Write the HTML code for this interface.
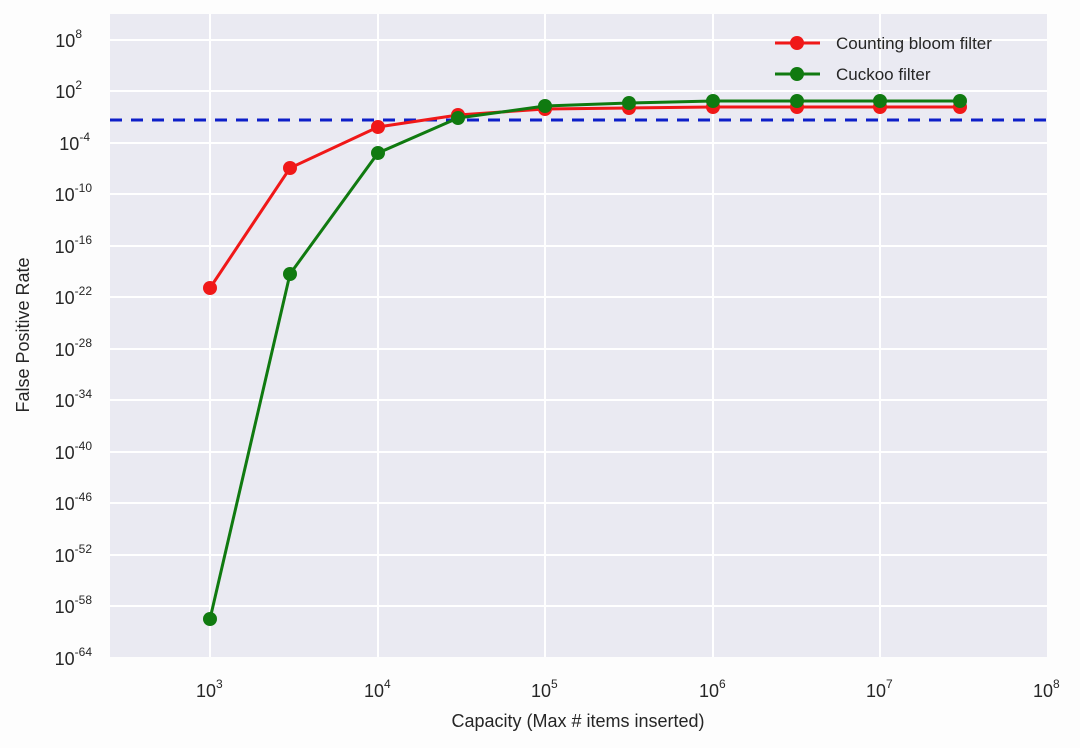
<!DOCTYPE html>
<html><head><style>body{margin:0;background:#fff}</style></head><body>
<svg width="1080" height="748" xmlns="http://www.w3.org/2000/svg" font-family="Liberation Sans, sans-serif">
<rect width="1080" height="748" fill="#fdfdfd"/>
<rect x="110" y="14" width="937" height="643" fill="#eaeaf2"/>
<g stroke="#fff" stroke-width="2">
<line x1="210" y1="14" x2="210" y2="657"/><line x1="378" y1="14" x2="378" y2="657"/><line x1="545" y1="14" x2="545" y2="657"/><line x1="713" y1="14" x2="713" y2="657"/><line x1="880" y1="14" x2="880" y2="657"/>
<line x1="110" y1="40" x2="1047" y2="40"/><line x1="110" y1="91" x2="1047" y2="91"/><line x1="110" y1="143" x2="1047" y2="143"/><line x1="110" y1="194" x2="1047" y2="194"/><line x1="110" y1="246" x2="1047" y2="246"/><line x1="110" y1="297" x2="1047" y2="297"/><line x1="110" y1="349" x2="1047" y2="349"/><line x1="110" y1="400" x2="1047" y2="400"/><line x1="110" y1="452" x2="1047" y2="452"/><line x1="110" y1="503" x2="1047" y2="503"/><line x1="110" y1="555" x2="1047" y2="555"/><line x1="110" y1="606" x2="1047" y2="606"/>
</g>
<g font-size="18" fill="#262626" text-anchor="end">
<text x="82" y="47">10<tspan dy="-9" font-size="12">8</tspan></text>
<text x="82" y="98">10<tspan dy="-9" font-size="12">2</tspan></text>
<text x="90" y="150">10<tspan dy="-9" font-size="12">-4</tspan></text>
<text x="92" y="201">10<tspan dy="-9" font-size="12">-10</tspan></text>
<text x="92" y="253">10<tspan dy="-9" font-size="12">-16</tspan></text>
<text x="92" y="304">10<tspan dy="-9" font-size="12">-22</tspan></text>
<text x="92" y="356">10<tspan dy="-9" font-size="12">-28</tspan></text>
<text x="92" y="407">10<tspan dy="-9" font-size="12">-34</tspan></text>
<text x="92" y="459">10<tspan dy="-9" font-size="12">-40</tspan></text>
<text x="92" y="510">10<tspan dy="-9" font-size="12">-46</tspan></text>
<text x="92" y="562">10<tspan dy="-9" font-size="12">-52</tspan></text>
<text x="92" y="613">10<tspan dy="-9" font-size="12">-58</tspan></text>
<text x="92" y="665">10<tspan dy="-9" font-size="12">-64</tspan></text>
</g>
<g font-size="18" fill="#262626">
<text x="196" y="697">10<tspan dy="-9" font-size="12">3</tspan></text>
<text x="364" y="697">10<tspan dy="-9" font-size="12">4</tspan></text>
<text x="531" y="697">10<tspan dy="-9" font-size="12">5</tspan></text>
<text x="699" y="697">10<tspan dy="-9" font-size="12">6</tspan></text>
<text x="866" y="697">10<tspan dy="-9" font-size="12">7</tspan></text>
<text x="1033" y="697">10<tspan dy="-9" font-size="12">8</tspan></text>
</g>
<text x="578" y="727" font-size="18" fill="#262626" text-anchor="middle">Capacity (Max # items inserted)</text>
<text transform="translate(29,335) rotate(-90)" font-size="18" fill="#262626" text-anchor="middle">False Positive Rate</text>
<line x1="110" y1="120" x2="1047" y2="120" stroke="#0d1fc8" stroke-width="3" stroke-dasharray="12,9"/>
<polyline fill="none" stroke="#f01818" stroke-width="3" points="210,288 290,168 378,127 458,115 545,109 629,108 713,107 797,107 880,107 960,107"/>
<g fill="#f01818"><circle cx="210" cy="288" r="7"/><circle cx="290" cy="168" r="7"/><circle cx="378" cy="127" r="7"/><circle cx="458" cy="115" r="7"/><circle cx="545" cy="109" r="7"/><circle cx="629" cy="108" r="7"/><circle cx="713" cy="107" r="7"/><circle cx="797" cy="107" r="7"/><circle cx="880" cy="107" r="7"/><circle cx="960" cy="107" r="7"/></g>
<polyline fill="none" stroke="#107a10" stroke-width="3" points="210,619 290,274 378,153 458,118 545,106 629,103 713,101 797,101 880,101 960,101"/>
<g fill="#107a10"><circle cx="210" cy="619" r="7"/><circle cx="290" cy="274" r="7"/><circle cx="378" cy="153" r="7"/><circle cx="458" cy="118" r="7"/><circle cx="545" cy="106" r="7"/><circle cx="629" cy="103" r="7"/><circle cx="713" cy="101" r="7"/><circle cx="797" cy="101" r="7"/><circle cx="880" cy="101" r="7"/><circle cx="960" cy="101" r="7"/></g>
<line x1="775" y1="43" x2="820" y2="43" stroke="#f01818" stroke-width="3"/><circle cx="797" cy="43" r="7" fill="#f01818"/>
<line x1="775" y1="74" x2="820" y2="74" stroke="#107a10" stroke-width="3"/><circle cx="797" cy="74" r="7" fill="#107a10"/>
<text x="836" y="49" font-size="17" fill="#262626">Counting bloom filter</text>
<text x="836" y="80" font-size="17" fill="#262626">Cuckoo filter</text>
</svg>
</body></html>
